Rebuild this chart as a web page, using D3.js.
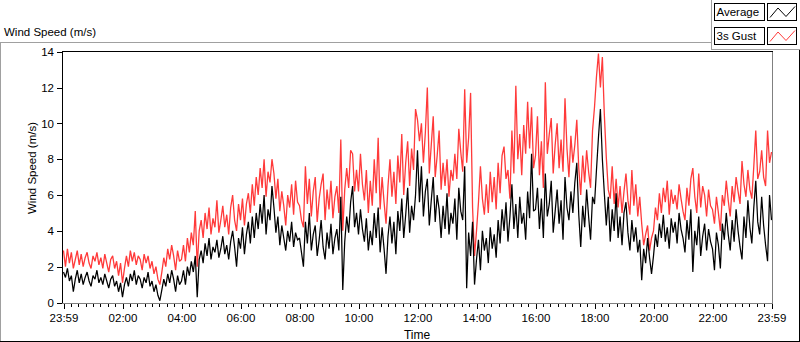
<!DOCTYPE html>
<html><head><meta charset="utf-8">
<script src="https://cdn.jsdelivr.net/npm/d3@7/dist/d3.min.js"></script>
<style>
body{margin:0;background:#fff;}
svg{display:block;font-family:"Liberation Sans",Arial,sans-serif;}
</style>
</head><body>
<svg id="chart" width="800" height="342"></svg>
<script>
// ---------------- data ----------------
const chartTitle = "Wind Speed (m/s)";
const yAxisTitle = "Wind Speed (m/s)";
const xAxisTitle = "Time";
const seriesNames = ["Average", "3s Gust"];
const sampleMinutes = 4;          // one reading every 4 minutes, 24 h span
const totalMinutes = 1440;
const xTickLabels = ["23:59","02:00","04:00","06:00","08:00","10:00","12:00","14:00","16:00","18:00","20:00","22:00","23:59"];
const yTickValues = [0,2,4,6,8,10,12,14];

const average = [
  1.7,1.4,1.9,1.2,1.5,0.6,1.3,1.8,1.1,1.6,1.0,1.4,1.7,1.2,0.9,1.5,1.3,1.8,1.1,1.4,1.0,1.6,1.2,0.8,1.3,1.5,0.9,1.2,0.6,1.1,
  0.3,1.0,1.4,0.9,1.6,1.2,1.8,1.0,1.5,1.3,0.8,1.4,1.1,1.7,0.9,1.2,0.6,1.0,0.4,0.1,0.7,1.3,0.9,1.6,1.1,1.8,1.3,0.6,1.5,1.0,
  1.2,1.8,1.0,2.0,1.5,2.3,1.7,2.6,0.3,2.4,2.9,2.2,3.3,2.6,3.6,2.4,3.1,2.8,3.5,2.5,3.0,3.7,2.7,3.2,2.4,3.4,4.0,3.1,2.0,3.6,
  3.0,4.2,2.7,3.8,4.5,3.3,4.8,3.6,5.0,4.1,5.5,4.4,6.0,3.8,5.2,4.6,6.5,5.3,3.9,4.8,3.2,4.3,3.6,2.9,4.0,3.4,4.5,3.1,3.9,3.5,
  3.6,2.8,2.0,4.5,3.3,5.0,2.9,3.8,4.3,2.6,3.5,4.6,3.1,2.4,3.9,3.0,4.4,2.7,3.6,4.1,2.9,5.9,0.7,3.4,4.8,3.9,5.6,6.5,4.2,5.0,
  3.8,5.2,4.1,3.4,4.7,2.9,4.0,3.2,5.0,3.6,5.3,2.8,4.2,3.0,1.6,3.7,4.8,3.3,4.5,2.7,5.1,4.0,5.8,3.6,4.9,6.4,3.9,5.4,4.6,6.0,
  8.5,5.6,7.6,4.8,6.2,6.9,4.3,5.7,7.0,4.5,6.0,5.2,3.6,5.4,4.1,6.1,3.8,5.0,4.4,5.8,3.5,6.4,5.1,4.6,7.6,0.8,3.9,2.6,4.5,1.0,
  2.4,3.5,1.8,4.0,2.9,3.6,2.2,4.2,3.0,3.8,2.5,4.6,3.3,5.2,4.0,5.6,3.4,4.8,6.6,4.1,5.5,3.6,5.9,4.4,5.0,3.5,6.2,4.7,8.3,5.1,
  5.2,6.4,4.1,5.8,3.6,7.2,4.8,5.5,6.8,3.9,5.1,6.3,4.4,5.7,3.5,7.0,5.3,4.6,6.2,5.0,6.7,7.8,4.9,3.1,5.4,4.2,6.3,4.8,3.5,5.9,
  5.5,7.4,9.2,10.8,8.0,6.1,4.3,5.9,3.4,5.2,4.0,6.1,3.6,4.8,3.2,5.0,5.6,3.9,2.9,4.6,3.4,4.2,2.8,3.5,1.25,3.0,2.2,3.6,2.5,1.6,
  2.6,3.8,3.1,4.4,3.6,4.9,3.4,4.2,3.0,4.7,3.9,4.5,3.3,5.0,4.1,3.6,2.8,4.6,3.5,5.2,1.7,4.0,3.2,4.8,2.6,3.7,4.4,2.9,4.1,3.4,
  3.0,1.8,3.9,3.2,1.9,4.4,3.5,5.0,3.8,2.9,4.6,3.4,5.2,4.0,3.1,2.4,4.8,3.6,5.7,4.2,3.3,5.3,6.8,4.5,3.8,5.9,4.3,3.2,2.3,6.0,4.6
];

const gust = [
  2.9,2.0,3.0,2.2,2.8,1.9,2.4,2.9,2.1,2.7,2.0,2.5,2.8,2.2,1.9,2.6,2.3,2.8,2.1,2.5,1.9,2.7,2.2,1.7,2.4,2.6,1.9,2.3,1.5,2.2,
  1.1,1.9,2.6,2.0,2.9,2.3,2.8,2.1,2.6,2.4,1.8,2.7,2.2,2.6,1.9,2.3,1.6,2.0,1.3,1.0,1.7,2.5,2.0,3.0,2.4,3.2,2.6,1.8,2.9,2.3,
  2.4,3.2,2.3,3.6,2.8,3.9,3.2,5.1,2.0,4.0,4.6,3.6,5.0,4.1,5.3,3.8,4.7,4.2,5.7,3.9,4.6,5.4,4.2,4.9,3.8,5.3,6.0,4.6,4.0,5.5,
  4.6,5.8,4.3,5.5,6.1,5.0,6.6,5.4,7.0,6.0,7.5,6.4,8.0,5.9,7.3,6.7,8.0,7.2,5.8,6.9,5.1,6.2,5.4,4.3,6.0,5.3,6.6,4.9,6.8,5.6,
  5.4,4.6,4.2,7.6,5.5,6.9,4.8,6.2,7.0,4.5,5.8,6.6,7.2,4.6,6.3,5.2,6.8,4.7,5.9,6.5,5.0,9.1,4.0,6.3,7.5,6.4,8.5,8.3,6.2,7.4,
  6.2,8.3,6.6,5.7,7.4,5.0,6.8,5.4,8.0,6.1,9.2,5.2,7.0,5.6,4.4,6.5,8.0,5.9,7.3,5.5,8.2,6.7,9.4,6.0,7.8,9.0,6.5,8.6,7.4,10.8,
  10.2,9.0,10.0,7.8,9.5,12.0,7.2,8.8,10.4,7.0,8.2,9.6,6.3,7.8,6.5,8.0,5.9,7.4,6.8,8.3,6.9,9.7,8.4,7.3,11.9,7.8,9.2,11.7,5.3,2.6,
  4.0,5.6,7.6,5.8,4.9,6.6,5.0,7.3,5.6,7.0,5.2,7.8,6.1,8.2,8.7,6.9,7.4,5.8,9.6,7.2,12.1,8.0,9.4,7.1,9.9,8.3,11.2,8.6,10.9,7.5,
  8.2,10.4,7.1,9.0,6.4,12.3,8.3,9.4,10.3,7.2,8.8,10.0,7.5,9.1,7.3,11.4,8.6,7.0,9.3,7.8,8.8,10.2,7.5,6.0,8.2,6.7,8.5,7.3,6.4,9.6,
  10.9,12.6,13.9,12.0,13.7,10.5,8.1,6.3,5.8,7.6,5.5,6.9,5.3,6.5,5.0,6.2,7.2,5.7,4.9,7.4,5.4,6.6,4.8,5.9,4.4,3.2,3.8,4.3,2.9,3.6,
  4.0,5.3,4.6,6.1,5.0,6.4,5.6,6.8,4.9,6.3,5.5,6.0,5.2,6.6,5.8,5.1,4.6,6.4,5.4,6.9,7.5,5.9,5.0,7.2,5.3,6.5,6.0,4.8,6.3,5.4,
  5.2,4.4,5.9,5.0,4.0,6.0,5.4,6.8,5.7,4.8,6.5,5.6,7.0,6.2,5.5,7.9,6.6,5.9,7.4,6.3,5.8,7.6,9.6,6.9,7.3,8.5,7.0,6.5,9.6,7.8,8.4
];

// ---------------- drawing ----------------
const svg = d3.select("#chart");
const frameGray = "#a0a0a0";
const plotL = 62, plotR = 772, plotT = 51.5, plotB = 303.5;

const x = d3.scaleLinear().domain([0, totalMinutes]).range([63.5, 771.5]);
const y = d3.scaleLinear().domain([0, 14]).range([302.5, 51.7]);

// outer frame
const seg = (x1,y1,x2,y2,c) => svg.append("line").attr("x1",x1).attr("y1",y1).attr("x2",x2).attr("y2",y2)
  .attr("stroke",c).attr("stroke-width",1).attr("shape-rendering","crispEdges");
seg(0, 42.5, 712, 42.5, frameGray);
seg(0.5, 42, 0.5, 342, frameGray);
seg(0, 341.5, 800, 341.5, "#000");
seg(799.5, 49.5, 799.5, 342, "#000");
seg(711.5, 0, 711.5, 49.5, frameGray);
seg(711, 49.5, 800, 49.5, frameGray);

// chart title
svg.append("text").attr("x", 4).attr("y", 35.5).attr("font-size", "11.5px").attr("fill", "#000").text(chartTitle);

// plot background
svg.append("rect").attr("x", plotL).attr("y", plotT).attr("width", plotR - plotL).attr("height", plotB - plotT).attr("fill", "#fff");

// clip
svg.append("defs").append("clipPath").attr("id", "clip").append("rect")
  .attr("x", plotL + 1).attr("y", plotT + 0.5).attr("width", plotR - plotL - 1).attr("height", plotB - plotT - 0.5);

const line = d3.line().x((d, i) => x(i * sampleMinutes)).y(d => y(d));
const g = svg.append("g").attr("clip-path", "url(#clip)");
g.append("path").datum(gust).attr("d", line).attr("fill", "none").attr("stroke", "#ff3a3a")
  .attr("stroke-width", 1.3).attr("stroke-linejoin", "miter").attr("stroke-miterlimit", 2);
g.append("path").datum(average).attr("d", line).attr("fill", "none").attr("stroke", "#000")
  .attr("stroke-width", 1.25).attr("stroke-linejoin", "miter").attr("stroke-miterlimit", 2);

// plot border (sunken look)
seg(plotL, plotT, plotR + 1, plotT, "#000");
seg(plotL + 0.5, plotT, plotL + 0.5, plotB, "#000");
seg(plotR + 0.5, plotT, plotR + 0.5, plotB + 0.5, "#808080");
seg(plotL, plotB, plotR + 1, plotB, "#808080");

// y axis
const yAxis = d3.axisLeft(y).tickValues(yTickValues).tickSize(5).tickPadding(3).tickFormat(d3.format("d"));
const yg = svg.append("g").attr("transform", `translate(${plotL},0)`).call(yAxis);
yg.select(".domain").remove();
yg.selectAll(".tick line").attr("stroke", "#000").attr("shape-rendering", "crispEdges");
yg.selectAll(".tick text").attr("font-size", "11.5px").attr("font-family", "Liberation Sans, Arial, sans-serif").attr("fill", "#000");

// x axis: major ticks every 2 h, minor every 15 min
const majorVals = d3.range(0, totalMinutes + 1, 120);
const minorVals = d3.range(0, totalMinutes + 1, 15).filter(v => v % 120 !== 0);
const xMinor = d3.axisBottom(x).tickValues(minorVals).tickSize(3).tickFormat("");
const xmg = svg.append("g").attr("transform", `translate(0,${plotB + 0.5})`).call(xMinor);
xmg.select(".domain").remove();
xmg.selectAll(".tick line").attr("stroke", "#000").attr("shape-rendering", "crispEdges");

const xAxis = d3.axisBottom(x).tickValues(majorVals).tickSize(5).tickPadding(5)
  .tickFormat((d, i) => xTickLabels[i]);
const xg = svg.append("g").attr("transform", `translate(0,${plotB + 0.5})`).call(xAxis);
xg.select(".domain").remove();
xg.selectAll(".tick line").attr("stroke", "#000").attr("shape-rendering", "crispEdges");
xg.selectAll(".tick text").attr("font-size", "11.5px").attr("font-family", "Liberation Sans, Arial, sans-serif").attr("fill", "#000");

// axis titles
svg.append("text").attr("x", (plotL + plotR) / 2).attr("y", 339).attr("text-anchor", "middle")
  .attr("font-size", "12px").attr("fill", "#000").text(xAxisTitle);
svg.append("text").attr("transform", "translate(36,168) rotate(-90)").attr("text-anchor", "middle")
  .attr("font-size", "11.5px").attr("fill", "#000").text(yAxisTitle);

// legend
const legendColors = ["#000", "#ff3a3a"];
const legendTops = [3.5, 27.5];
seriesNames.forEach((name, i) => {
  const top = legendTops[i];
  svg.append("rect").attr("x", 714.5).attr("y", top).attr("width", 50).attr("height", 17)
    .attr("fill", "#fff").attr("stroke", "#000").attr("shape-rendering", "crispEdges");
  svg.append("text").attr("x", 716.5).attr("y", top + 12.5).attr("font-size", "11.5px").attr("fill", "#000").text(name);
  svg.append("rect").attr("x", 767.5).attr("y", top).attr("width", 29).attr("height", 17)
    .attr("fill", "#fff").attr("stroke", "#000").attr("shape-rendering", "crispEdges");
  const zz = [[770, top + 14], [778, top + 4.5], [786, top + 13], [795, top + 3]];
  svg.append("path").attr("d", d3.line()(zz)).attr("fill", "none").attr("stroke", legendColors[i]).attr("stroke-width", 1);
});
</script>
</body></html>
